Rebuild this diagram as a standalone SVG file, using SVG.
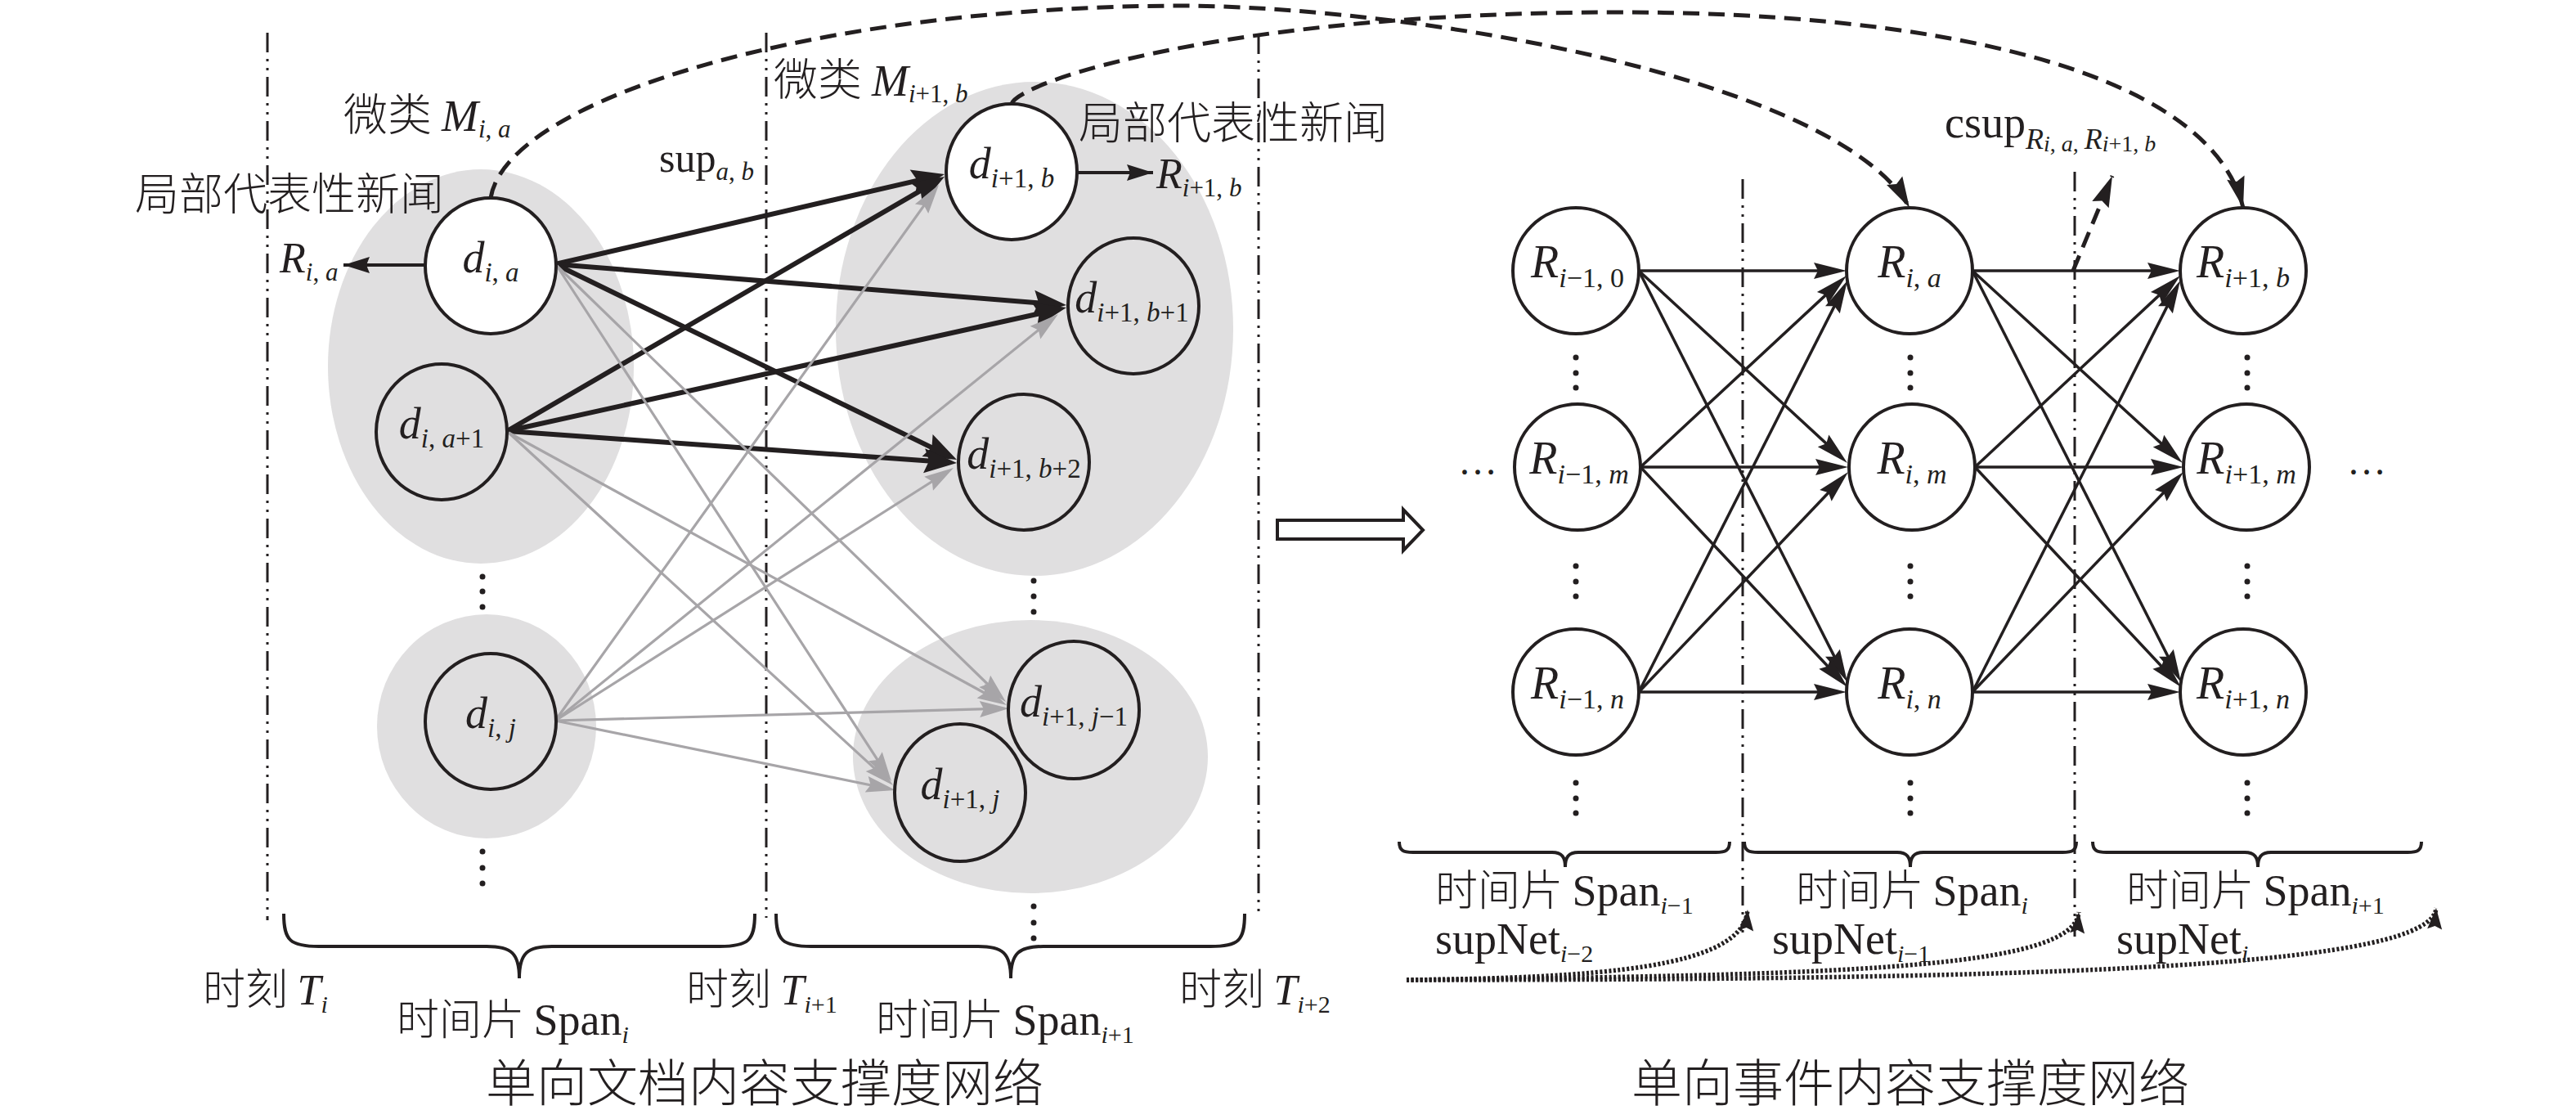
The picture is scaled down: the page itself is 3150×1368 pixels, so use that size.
<svg xmlns="http://www.w3.org/2000/svg" width="3150" height="1368" viewBox="0 0 3150 1368">
<style>
.t{font-family:"Liberation Serif","Noto Sans CJK SC",serif;fill:#231f20}
.cjk{font-family:"Noto Sans CJK SC",sans-serif;font-weight:300}
.i{font-style:italic}
.node{fill:none;stroke:#231f20;stroke-width:4}
.wh{fill:#fff}
.blob{fill:#e0dfe0}
.eb{fill:none;stroke:#231f20;stroke-width:6;marker-end:url(#aB);stroke-dasharray:97 3}
.eg{fill:none;stroke:#a7a5a8;stroke-width:3.2;marker-end:url(#aG);stroke-dasharray:97 3}
.et{fill:none;stroke:#231f20;stroke-width:3.5;marker-end:url(#aT);stroke-dasharray:96 4}
.dd{stroke:#231f20;stroke-width:3;stroke-dasharray:24 8 3 8 3 8;fill:none}
.dash{fill:none;stroke:#231f20;stroke-width:5;stroke-dasharray:20 11}
.dot{fill:none;stroke:#231f20;stroke-width:5.5;stroke-dasharray:3 2.5}
.br{fill:none;stroke:#231f20;stroke-width:4}
.dt{fill:#231f20}
</style>
<defs>
<marker id="aB" markerUnits="userSpaceOnUse" markerWidth="40" markerHeight="30" refX="40" refY="15" orient="auto" overflow="visible"><path d="M0,0 L40,15 L0,30 L6,15 z" fill="#231f20"/></marker>
<marker id="aG" markerUnits="userSpaceOnUse" markerWidth="36" markerHeight="20" refX="36" refY="10" orient="auto" overflow="visible"><path d="M0,0 L36,10 L0,20 L5,10 z" fill="#a7a5a8"/></marker>
<marker id="aT" markerUnits="userSpaceOnUse" markerWidth="40" markerHeight="20" refX="40" refY="10" orient="auto" overflow="visible"><path d="M0,0 L40,10 L0,20 L5,10 z" fill="#231f20"/></marker>
<marker id="aD" markerUnits="userSpaceOnUse" markerWidth="38" markerHeight="22" refX="38" refY="11" orient="auto" overflow="visible"><path d="M0,0 L38,11 L0,22 L5,11 z" fill="#231f20"/></marker>
<marker id="aS" markerUnits="userSpaceOnUse" markerWidth="32" markerHeight="20" refX="32" refY="10" orient="auto" overflow="visible"><path d="M0,0 L32,10 L0,20 L4,10 z" fill="#231f20"/></marker>
<marker id="aO" markerUnits="userSpaceOnUse" markerWidth="26" markerHeight="18" refX="26" refY="9" orient="auto" overflow="visible"><path d="M0,0 L26,9 L0,18 L4,9 z" fill="#231f20"/></marker>
</defs>
<rect width="3150" height="1368" fill="#fff"/>

<!-- grey micro-cluster blobs -->
<g id="blobs">
<ellipse class="blob" cx="588" cy="448" rx="187" ry="241"/>
<ellipse class="blob" cx="595" cy="888" rx="134" ry="137"/>
<ellipse class="blob" cx="1265" cy="402" rx="243" ry="302"/>
<ellipse class="blob" cx="1260" cy="925" rx="217" ry="167"/>
</g>

<!-- time boundaries -->
<g id="timelines">
<line class="dd" x1="327" y1="40" x2="327" y2="1125"/>
<line class="dd" x1="937" y1="40" x2="937" y2="1122"/>
<line class="dd" x1="1539" y1="42" x2="1539" y2="1120"/>
<line class="dd" x1="2131" y1="219" x2="2131" y2="1140"/>
<line class="dd" x1="2537" y1="210" x2="2537" y2="1145"/>
</g>

<g id="connectors">
<!-- left: thick black -->
<path class="eb" pathLength="100" d="M679,323 L1155,213"/>
<path class="eb" pathLength="100" d="M679,323 L1304,373"/>
<path class="eb" pathLength="100" d="M679,323 L1170,562"/>
<path class="eb" pathLength="100" d="M620,527 L1155,216"/>
<path class="eb" pathLength="100" d="M620,527 L1304,376"/>
<path class="eb" pathLength="100" d="M620,527 L1170,566"/>
<!-- left: grey -->
<path class="eg" pathLength="100" d="M681,325 L1230,858"/>
<path class="eg" pathLength="100" d="M681,325 L1090,955"/>
<path class="eg" pathLength="100" d="M622,529 L1231,862"/>
<path class="eg" pathLength="100" d="M622,529 L1092,960"/>
<path class="eg" pathLength="100" d="M679,881 L1148,226"/>
<path class="eg" pathLength="100" d="M679,881 L1294,384"/>
<path class="eg" pathLength="100" d="M679,881 L1166,572"/>
<path class="eg" pathLength="100" d="M679,881 L1234,866"/>
<path class="eg" pathLength="100" d="M679,881 L1095,966"/>
<!-- representative arrows -->
<line x1="520" y1="324" x2="420" y2="324" stroke="#231f20" stroke-width="4" marker-end="url(#aS)"/>
<line x1="1317" y1="211" x2="1410" y2="211" stroke="#231f20" stroke-width="4" marker-end="url(#aS)"/>
<!-- dashed cluster-to-event curves -->
<path class="dash" marker-end="url(#aD)" d="M600,242 C620,120 1000,7 1450,7 C1750,10 2250,100 2335,254"/>
<path class="dash" marker-end="url(#aD)" d="M1237,127 C1245,100 1500,15 1980,15 C2350,15 2700,80 2743,254"/>
<path class="dash" marker-end="url(#aD)" d="M2535,331 L2583,215"/>
<!-- hollow transform arrow -->
<polygon points="1562,636 1716,636 1716,623 1740,648 1716,673 1716,659 1562,659" fill="#fff" stroke="#231f20" stroke-width="4"/>
<!-- right network A->B -->
<path class="et" pathLength="100" d="M2004,331 L2258,331"/>
<path class="et" pathLength="100" d="M2004,331 L2259,566"/>
<path class="et" pathLength="100" d="M2004,331 L2259,834"/>
<path class="et" pathLength="100" d="M2006,571 L2258,337"/>
<path class="et" pathLength="100" d="M2006,571 L2260,571"/>
<path class="et" pathLength="100" d="M2006,571 L2259,840"/>
<path class="et" pathLength="100" d="M2004,846 L2259,343"/>
<path class="et" pathLength="100" d="M2004,846 L2260,577"/>
<path class="et" pathLength="100" d="M2004,846 L2258,846"/>
<!-- right network B->C -->
<path class="et" pathLength="100" d="M2412,331 L2666,331"/>
<path class="et" pathLength="100" d="M2412,331 L2669,566"/>
<path class="et" pathLength="100" d="M2412,331 L2667,834"/>
<path class="et" pathLength="100" d="M2415,571 L2666,337"/>
<path class="et" pathLength="100" d="M2415,571 L2670,571"/>
<path class="et" pathLength="100" d="M2415,571 L2667,840"/>
<path class="et" pathLength="100" d="M2412,846 L2666,343"/>
<path class="et" pathLength="100" d="M2412,846 L2670,577"/>
<path class="et" pathLength="100" d="M2412,846 L2666,846"/>
<!-- dotted supNet arrows -->
<path class="dot" marker-end="url(#aO)" d="M1720,1198 C1950,1195 2132,1185 2137,1112"/>
<path class="dot" marker-end="url(#aO)" d="M1720,1198 C2250,1192 2537,1185 2542,1115"/>
<path class="dot" marker-end="url(#aO)" d="M1720,1198 C2550,1198 2974,1180 2979,1110"/>
</g>

<!-- left nodes -->
<g id="d_i_a">
<ellipse class="node wh" cx="600" cy="325" rx="80" ry="83"/>
<text class="t" x="600" y="333" text-anchor="middle" font-size="54"><tspan class="i">d</tspan><tspan class="i" font-size="33" dy="11">i</tspan><tspan font-size="33">, </tspan><tspan class="i" font-size="33">a</tspan></text>
</g>
<g id="d_i_a1">
<ellipse class="node" cx="540" cy="528" rx="80" ry="83"/>
<text class="t" x="540" y="536" text-anchor="middle" font-size="54"><tspan class="i">d</tspan><tspan class="i" font-size="33" dy="11">i</tspan><tspan font-size="33">, </tspan><tspan class="i" font-size="33">a</tspan><tspan font-size="33">+1</tspan></text>
</g>
<g id="d_i_j">
<ellipse class="node" cx="600" cy="882" rx="80" ry="83"/>
<text class="t" x="600" y="890" text-anchor="middle" font-size="54"><tspan class="i">d</tspan><tspan class="i" font-size="33" dy="11">i</tspan><tspan font-size="33">, </tspan><tspan class="i" font-size="33">j</tspan></text>
</g>
<g id="d_i1_b">
<ellipse class="node wh" cx="1237" cy="210" rx="80" ry="83"/>
<text class="t" x="1237" y="218" text-anchor="middle" font-size="54"><tspan class="i">d</tspan><tspan class="i" font-size="33" dy="11">i</tspan><tspan font-size="33">+1, </tspan><tspan class="i" font-size="33">b</tspan></text>
</g>
<g id="d_i1_b1">
<ellipse class="node" cx="1386" cy="374" rx="80" ry="83"/>
<text class="t" x="1384" y="382" text-anchor="middle" font-size="54"><tspan class="i">d</tspan><tspan class="i" font-size="33" dy="11">i</tspan><tspan font-size="33">+1, </tspan><tspan class="i" font-size="33">b</tspan><tspan font-size="33">+1</tspan></text>
</g>
<g id="d_i1_b2">
<ellipse class="node" cx="1252" cy="565" rx="80" ry="83"/>
<text class="t" x="1252" y="573" text-anchor="middle" font-size="54"><tspan class="i">d</tspan><tspan class="i" font-size="33" dy="11">i</tspan><tspan font-size="33">+1, </tspan><tspan class="i" font-size="33">b</tspan><tspan font-size="33">+2</tspan></text>
</g>
<g id="d_i1_j1">
<ellipse class="node" cx="1313" cy="868" rx="80" ry="84"/>
<text class="t" x="1313" y="876" text-anchor="middle" font-size="54"><tspan class="i">d</tspan><tspan class="i" font-size="33" dy="11">i</tspan><tspan font-size="33">+1, </tspan><tspan class="i" font-size="33">j</tspan><tspan font-size="33">−1</tspan></text>
</g>
<g id="d_i1_j">
<ellipse class="node" cx="1174" cy="969" rx="80" ry="84"/>
<text class="t" x="1174" y="977" text-anchor="middle" font-size="54"><tspan class="i">d</tspan><tspan class="i" font-size="33" dy="11">i</tspan><tspan font-size="33">+1, </tspan><tspan class="i" font-size="33">j</tspan></text>
</g>

<!-- right nodes -->
<g id="R_im1_0"><circle class="node wh" cx="1927" cy="331" r="77"/>
<text class="t" x="1929" y="339" text-anchor="middle" font-size="56"><tspan class="i">R</tspan><tspan class="i" font-size="34" dy="12">i</tspan><tspan font-size="34">−1, 0</tspan></text></g>
<g id="R_im1_m"><circle class="node wh" cx="1929" cy="571" r="77"/>
<text class="t" x="1931" y="579" text-anchor="middle" font-size="56"><tspan class="i">R</tspan><tspan class="i" font-size="34" dy="12">i</tspan><tspan font-size="34">−1, </tspan><tspan class="i" font-size="34">m</tspan></text></g>
<g id="R_im1_n"><circle class="node wh" cx="1927" cy="846" r="77"/>
<text class="t" x="1929" y="854" text-anchor="middle" font-size="56"><tspan class="i">R</tspan><tspan class="i" font-size="34" dy="12">i</tspan><tspan font-size="34">−1, </tspan><tspan class="i" font-size="34">n</tspan></text></g>
<g id="R_i_a"><circle class="node wh" cx="2335" cy="331" r="77"/>
<text class="t" x="2335" y="339" text-anchor="middle" font-size="56"><tspan class="i">R</tspan><tspan class="i" font-size="34" dy="12">i</tspan><tspan font-size="34">, </tspan><tspan class="i" font-size="34">a</tspan></text></g>
<g id="R_i_m"><circle class="node wh" cx="2338" cy="571" r="77"/>
<text class="t" x="2338" y="579" text-anchor="middle" font-size="56"><tspan class="i">R</tspan><tspan class="i" font-size="34" dy="12">i</tspan><tspan font-size="34">, </tspan><tspan class="i" font-size="34">m</tspan></text></g>
<g id="R_i_n"><circle class="node wh" cx="2335" cy="846" r="77"/>
<text class="t" x="2335" y="854" text-anchor="middle" font-size="56"><tspan class="i">R</tspan><tspan class="i" font-size="34" dy="12">i</tspan><tspan font-size="34">, </tspan><tspan class="i" font-size="34">n</tspan></text></g>
<g id="R_ip1_b"><circle class="node wh" cx="2743" cy="331" r="77"/>
<text class="t" x="2743" y="339" text-anchor="middle" font-size="56"><tspan class="i">R</tspan><tspan class="i" font-size="34" dy="12">i</tspan><tspan font-size="34">+1, </tspan><tspan class="i" font-size="34">b</tspan></text></g>
<g id="R_ip1_m"><circle class="node wh" cx="2747" cy="571" r="77"/>
<text class="t" x="2747" y="579" text-anchor="middle" font-size="56"><tspan class="i">R</tspan><tspan class="i" font-size="34" dy="12">i</tspan><tspan font-size="34">+1, </tspan><tspan class="i" font-size="34">m</tspan></text></g>
<g id="R_ip1_n"><circle class="node wh" cx="2743" cy="846" r="77"/>
<text class="t" x="2743" y="854" text-anchor="middle" font-size="56"><tspan class="i">R</tspan><tspan class="i" font-size="34" dy="12">i</tspan><tspan font-size="34">+1, </tspan><tspan class="i" font-size="34">n</tspan></text></g>

<!-- vertical ellipsis dots -->
<g id="vdots" class="dt">
<circle cx="590" cy="705" r="3.5"/><circle cx="590" cy="723" r="3.5"/><circle cx="590" cy="742" r="3.5"/>
<circle cx="590" cy="1041" r="3.5"/><circle cx="590" cy="1061" r="3.5"/><circle cx="590" cy="1080" r="3.5"/>
<circle cx="1264" cy="710" r="3.5"/><circle cx="1264" cy="729" r="3.5"/><circle cx="1264" cy="748" r="3.5"/>
<circle cx="1264" cy="1108" r="3.5"/><circle cx="1264" cy="1128" r="3.5"/><circle cx="1264" cy="1147" r="3.5"/>
<circle cx="1927" cy="437" r="3.5"/><circle cx="1927" cy="456" r="3.5"/><circle cx="1927" cy="474" r="3.5"/>
<circle cx="1927" cy="692" r="3.5"/><circle cx="1927" cy="711" r="3.5"/><circle cx="1927" cy="729" r="3.5"/>
<circle cx="1927" cy="957" r="3.5"/><circle cx="1927" cy="976" r="3.5"/><circle cx="1927" cy="994" r="3.5"/>
<circle cx="2336" cy="437" r="3.5"/><circle cx="2336" cy="456" r="3.5"/><circle cx="2336" cy="474" r="3.5"/>
<circle cx="2336" cy="692" r="3.5"/><circle cx="2336" cy="711" r="3.5"/><circle cx="2336" cy="729" r="3.5"/>
<circle cx="2336" cy="957" r="3.5"/><circle cx="2336" cy="976" r="3.5"/><circle cx="2336" cy="994" r="3.5"/>
<circle cx="2748" cy="437" r="3.5"/><circle cx="2748" cy="456" r="3.5"/><circle cx="2748" cy="474" r="3.5"/>
<circle cx="2748" cy="692" r="3.5"/><circle cx="2748" cy="711" r="3.5"/><circle cx="2748" cy="729" r="3.5"/>
<circle cx="2748" cy="957" r="3.5"/><circle cx="2748" cy="976" r="3.5"/><circle cx="2748" cy="994" r="3.5"/>
</g>

<!-- braces -->
<g id="braces">
<path class="br" d="M347,1117 C347,1150 355,1157 390,1157 L595,1157 C625,1157 635,1165 635,1196 C635,1165 645,1157 675,1157 L880,1157 C915,1157 923,1150 923,1117"/>
<path class="br" d="M949,1117 C949,1150 957,1157 992,1157 L1196,1157 C1226,1157 1236,1165 1236,1196 C1236,1165 1246,1157 1276,1157 L1480,1157 C1515,1157 1522,1150 1522,1117"/>
<path class="br" d="M1711,1029 C1711,1040 1716,1042 1728,1042 L1898,1042 C1910,1042 1914,1048 1914,1060 C1914,1048 1918,1042 1930,1042 L2098,1042 C2110,1042 2115,1040 2115,1029"/>
<path class="br" d="M2133,1029 C2133,1040 2138,1042 2150,1042 L2320,1042 C2332,1042 2336,1048 2336,1060 C2336,1048 2340,1042 2352,1042 L2522,1042 C2534,1042 2539,1040 2539,1029"/>
<path class="br" d="M2559,1029 C2559,1040 2564,1042 2576,1042 L2745,1042 C2757,1042 2761,1048 2761,1060 C2761,1048 2765,1042 2777,1042 L2944,1042 C2956,1042 2961,1040 2961,1029"/>
</g>

<!-- labels -->
<g id="labels">
<text class="t" x="420" y="160" font-size="54"><tspan class="cjk">微类 </tspan><tspan class="i" font-size="54">M</tspan><tspan class="i" font-size="31" dy="8">i</tspan><tspan font-size="31">, </tspan><tspan class="i" font-size="31">a</tspan></text>
<text class="t" x="946" y="117" font-size="54"><tspan class="cjk">微类 </tspan><tspan class="i" font-size="54">M</tspan><tspan class="i" font-size="31" dy="8">i</tspan><tspan font-size="31">+1, </tspan><tspan class="i" font-size="31">b</tspan></text>
<text class="t cjk" x="165" y="257" font-size="54">局部代表性新闻</text>
<text class="t cjk" x="1319" y="170" font-size="54">局部代表性新闻</text>
<text class="t" x="806" y="210" font-size="50">sup<tspan class="i" font-size="31" dy="10">a</tspan><tspan font-size="31">, </tspan><tspan class="i" font-size="31">b</tspan></text>
<text class="t" x="342" y="333" font-size="52"><tspan class="i">R</tspan><tspan class="i" font-size="31" dy="10">i</tspan><tspan font-size="31">, </tspan><tspan class="i" font-size="31">a</tspan></text>
<text class="t" x="1414" y="230" font-size="52"><tspan class="i">R</tspan><tspan class="i" font-size="31" dy="10">i</tspan><tspan font-size="31">+1, </tspan><tspan class="i" font-size="31">b</tspan></text>
<text class="t" x="2378" y="168" font-size="54">csup<tspan class="i" font-size="36" dy="14">R</tspan><tspan class="i" font-size="28" dy="3">i</tspan><tspan font-size="28">, </tspan><tspan class="i" font-size="28">a</tspan><tspan font-size="28">, </tspan><tspan class="i" font-size="36" dy="-3">R</tspan><tspan class="i" font-size="28" dy="3">i</tspan><tspan font-size="28">+1, </tspan><tspan class="i" font-size="28">b</tspan></text>
<text class="t" x="1783" y="580" font-size="48">…</text>
<text class="t" x="2870" y="580" font-size="48">…</text>

<text class="t" x="248" y="1228" font-size="52"><tspan class="cjk">时刻 </tspan><tspan class="i" font-size="52">T</tspan><tspan class="i" font-size="30" dy="10">i</tspan></text>
<text class="t" x="839" y="1228" font-size="52"><tspan class="cjk">时刻 </tspan><tspan class="i" font-size="52">T</tspan><tspan class="i" font-size="30" dy="10">i</tspan><tspan font-size="30">+1</tspan></text>
<text class="t" x="1442" y="1228" font-size="52"><tspan class="cjk">时刻 </tspan><tspan class="i" font-size="52">T</tspan><tspan class="i" font-size="30" dy="10">i</tspan><tspan font-size="30">+2</tspan></text>
<text class="t" x="485" y="1265" font-size="54"><tspan class="cjk" font-size="52">时间片 </tspan>Span<tspan class="i" font-size="30" dy="10">i</tspan></text>
<text class="t" x="1071" y="1265" font-size="54"><tspan class="cjk" font-size="52">时间片 </tspan>Span<tspan class="i" font-size="30" dy="10">i</tspan><tspan font-size="30">+1</tspan></text>

<text class="t" x="1755" y="1107" font-size="54"><tspan class="cjk" font-size="52">时间片 </tspan>Span<tspan class="i" font-size="30" dy="10">i</tspan><tspan font-size="30">−1</tspan></text>
<text class="t" x="2196" y="1107" font-size="54"><tspan class="cjk" font-size="52">时间片 </tspan>Span<tspan class="i" font-size="30" dy="10">i</tspan></text>
<text class="t" x="2600" y="1107" font-size="54"><tspan class="cjk" font-size="52">时间片 </tspan>Span<tspan class="i" font-size="30" dy="10">i</tspan><tspan font-size="30">+1</tspan></text>
<text class="t" x="1755" y="1166" font-size="54">supNet<tspan class="i" font-size="30" dy="10">i</tspan><tspan font-size="30">−2</tspan></text>
<text class="t" x="2167" y="1166" font-size="54">supNet<tspan class="i" font-size="30" dy="10">i</tspan><tspan font-size="30">−1</tspan></text>
<text class="t" x="2588" y="1166" font-size="54">supNet<tspan class="i" font-size="30" dy="10">i</tspan></text>

<text class="t cjk" x="594" y="1347" font-size="62">单向文档内容支撑度网络</text>
<text class="t cjk" x="1995" y="1347" font-size="62">单向事件内容支撑度网络</text>
</g>
</svg>
